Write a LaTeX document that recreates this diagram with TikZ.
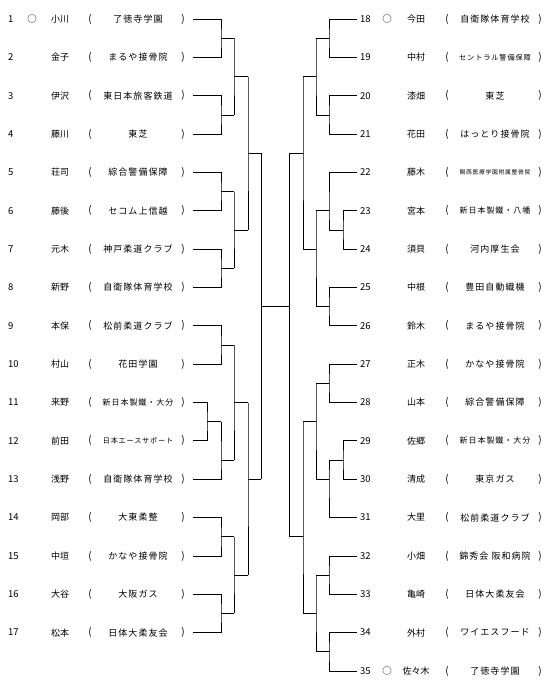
\documentclass[tikz,border=0pt]{standalone}
\usepackage{fontspec}
\setmainfont{Noto Sans CJK JP}
\usetikzlibrary{positioning}

\begin{document}
\begin{tikzpicture}[x=1pt, y=-1pt,
  num/.style={anchor=west, inner sep=0pt, font=\fontsize{9.5}{10}\selectfont},
  sym/.style={inner sep=0pt, font=\fontsize{9.5}{10}\selectfont},
  who/.style={inner sep=0pt, font=\fontsize{9}{10}\selectfont},
  par/.style={inner sep=0pt, font=\fontsize{10}{10}\selectfont},
  aff/.style={inner sep=0pt},
  bline/.style={line width=0.8pt}]
\useasboundingbox (0,0) rectangle (550,691);
% --- left half: entrants 1-17
\foreach \en/\sy/\pn/\af/\sz [count=\r from 0] in {
  1/○/小川/了徳寺学園/9,
  2/{}/金子/まるや接骨院/9,
  3/{}/伊沢/東日本旅客鉄道/9,
  4/{}/藤川/東芝/9,
  5/{}/荘司/綜合警備保障/9,
  6/{}/藤後/セコム上信越/9,
  7/{}/元木/神戸柔道クラブ/9,
  8/{}/新野/自衛隊体育学校/9,
  9/{}/本保/松前柔道クラブ/9,
  10/{}/村山/花田学園/9,
  11/{}/来野/新日本製鐵・大分/8,
  12/{}/前田/日本エースサポート/7.1,
  13/{}/浅野/自衛隊体育学校/9,
  14/{}/岡部/大東柔整/9,
  15/{}/中垣/かなや接骨院/9,
  16/{}/大谷/大阪ガス/9,
  17/{}/松本/日体大柔友会/9} {
  \node[num] (n\en) at (8,19+38.35*\r) {\en};
  \node[sym] (s\en) at (32,19+38.35*\r) {\sy};
  \node[who] (p\en) at (60,19+38.35*\r) {\pn};
  \node[par] (o\en) at (90,19+38.35*\r) {(};
  \node[aff, font=\fontsize{\sz}{\sz}\selectfont\addfontfeature{LetterSpace=12}] (a\en) at (138,19+38.35*\r) {\af};
  \node[par] (q\en) at (183,19+38.35*\r) {)};
  \coordinate (e\en) at (193,19+38.35*\r);
}
% --- right half: entrants 18-35
\foreach \en/\sy/\pn/\af/\sz [count=\r from 0] in {
  18/○/今田/自衛隊体育学校/9,
  19/{}/中村/セントラル警備保障/7.2,
  20/{}/漆畑/東芝/9,
  21/{}/花田/はっとり接骨院/9,
  22/{}/藤木/関西医療学園附属整骨院/5.8,
  23/{}/宮本/新日本製鐵・八幡/8,
  24/{}/須貝/河内厚生会/9,
  25/{}/中根/豊田自動織機/9,
  26/{}/鈴木/まるや接骨院/9,
  27/{}/正木/かなや接骨院/9,
  28/{}/山本/綜合警備保障/9,
  29/{}/佐郷/新日本製鐵・大分/8,
  30/{}/清成/東京ガス/9,
  31/{}/大里/松前柔道クラブ/9,
  32/{}/小畑/錦秀会 阪和病院/9,
  33/{}/亀崎/日体大柔友会/9,
  34/{}/外村/ワイエスフード/9,
  35/○/佐々木/了徳寺学園/9} {
  \node[num] (n\en) at (360,19+38.35*\r) {\en};
  \node[sym] (s\en) at (387,19+38.35*\r) {\sy};
  \node[who] (p\en) at (416,19+38.35*\r) {\pn};
  \node[par] (o\en) at (447,19+38.35*\r) {(};
  \node[aff, font=\fontsize{\sz}{\sz}\selectfont\addfontfeature{LetterSpace=12}] (a\en) at (495,19+38.35*\r) {\af};
  \node[par] (q\en) at (540,19+38.35*\r) {)};
  \coordinate (e\en) at (357,19+38.35*\r);
}
% --- brackets: top in / bottom in / x of join / y out / x out / name
\foreach \ua/\ub/\xv/\yo/\xo/\out in {
  e1/e2/221/38.2/234/la1, e3/e4/221/114.9/234/la2,
  e5/e6/221/191.6/234/la3, e7/e8/221/268.3/234/la4,
  e9/e10/221/345/234/la5, e11/e12/207/421.7/221/la6,
  la6/e13/221/460/234/la7, e14/e15/221/536.7/234/la8,
  e16/e17/221/613.4/234/la9,
  la1/la2/234/76.5/248/lb1, la3/la4/234/230/248/lb2,
  la5/la7/234/402.5/248/lb3, la8/la9/234/575.1/248/lb4,
  lb1/lb2/248/153.2/261/lc1, lb3/lb4/248/479.2/261/lc2,
  e18/e19/329/38.2/316/ra1, e20/e21/329/114.9/316/ra2,
  e23/e24/343/229.9/329/ra3, e22/ra3/329/210.75/316/ra4,
  e25/e26/329/306.6/316/ra5, e27/e28/329/383.3/316/ra6,
  e29/e30/343/460/329/ra7, ra7/e31/329/479.2/316/ra8,
  e32/e33/329/575.1/316/ra9, e34/e35/329/651.8/316/ra10,
  ra1/ra2/316/76.5/303/rb1, ra4/ra5/316/249.1/303/rb2,
  ra6/ra8/316/421.7/303/rb3, ra9/ra10/316/613.4/303/rb4,
  rb1/rb2/303/153.2/289/rc1, rb3/rb4/303/536.7/289/rc2}
  \draw[bline] (\ua) -| (\xv,\yo) |- (\ub) (\xv,\yo) -- (\xo,\yo) coordinate (\out);
% --- final
\draw[bline] (lc1) -- (lc2);
\draw[bline] (rc1) -- (rc2);
\draw[bline] (lc1 |- 0,306.6) -- (rc1 |- 0,306.6);
\end{tikzpicture}
\end{document}
